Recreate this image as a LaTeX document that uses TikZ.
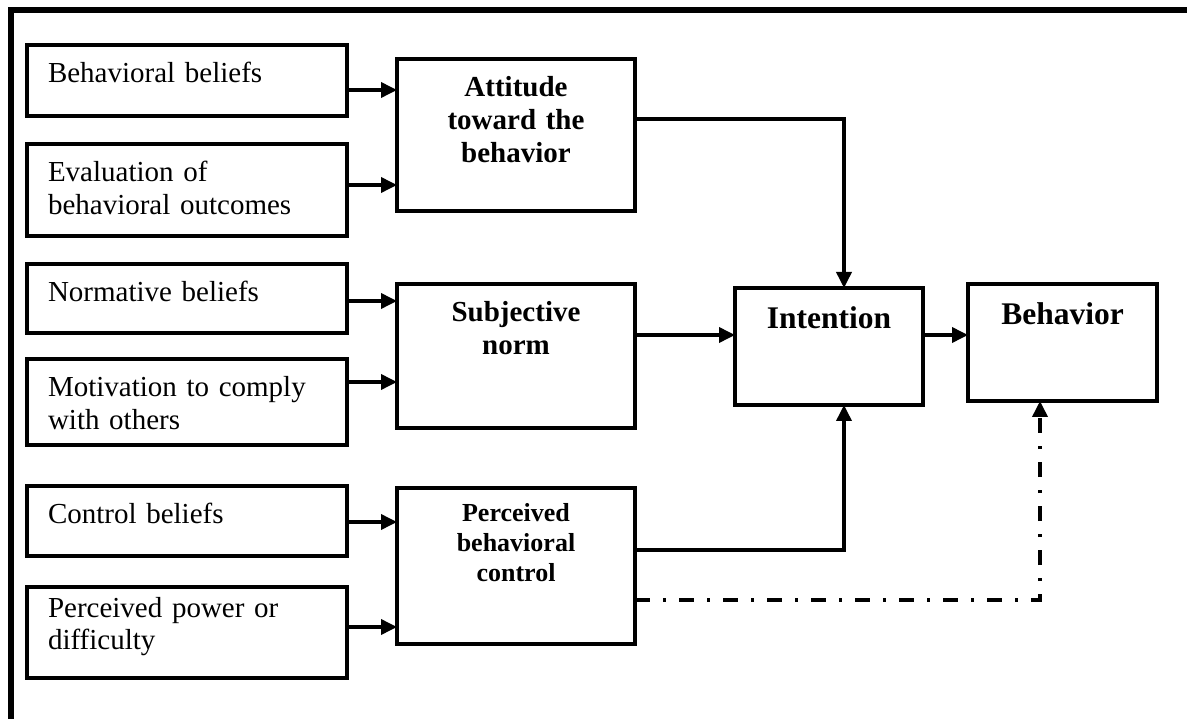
\documentclass[tikz,border=0pt]{standalone}
\usepackage{fontspec}
\setmainfont{Liberation Serif}
\usetikzlibrary{arrows.meta,calc}

\begin{document}
\begin{tikzpicture}[x=1pt,y=-1pt,
  box/.style={draw, line width=4.2pt, rectangle, inner sep=0pt, outer sep=0pt},
  leftbox/.style={box, minimum width=320pt},
  midbox/.style={box, minimum width=238pt},
  conn/.style={line width=3.6pt, -{Triangle[length=16pt,width=15pt]}},
  dashdot/.style={conn, dash pattern=on 15pt off 13pt on 3pt off 13pt},
  plaintext/.style={font=\fontsize{29}{32.5}\selectfont, inner sep=0pt, outer sep=0pt,
    align=left, text width=300pt, anchor=base west},
  boldtext/.style={font=\fontsize{29}{33}\bfseries\selectfont, inner sep=0pt, outer sep=0pt,
    align=center, text width=230pt, anchor=base},
  smallbold/.style={boldtext, font=\fontsize{26}{30}\bfseries\selectfont},
  bigbold/.style={boldtext, font=\fontsize{31.5}{36}\bfseries\selectfont, text width=185pt},
]
\useasboundingbox (0,0) rectangle (1187,719);

% outer frame (top and left edges)
\draw[line width=5.5pt] (1192,10) -- (11,10) -- (11,724);

% belief boxes on the left
\node[leftbox, minimum height=71pt] (b1) at (187,80.5) {};
\node[leftbox, minimum height=92pt] (b2) at (187,190) {};
\node[leftbox, minimum height=69pt] (b3) at (187,298.5) {};
\node[leftbox, minimum height=86pt] (b4) at (187,402) {};
\node[leftbox, minimum height=70pt] (b5) at (187,521) {};
\node[leftbox, minimum height=91pt] (b6) at (187,632.5) {};

\node[plaintext] (t1) at ($(b1.north west)+(21,38)$) {Behavioral beliefs};
\node[plaintext] (t2) at ($(b2.north west)+(21,37.7)$) {Evaluation of\\behavioral outcomes};
\node[plaintext] (t3) at ($(b3.north west)+(21,37.7)$) {Normative beliefs};
\node[plaintext] (t4) at ($(b4.north west)+(21,37.7)$) {Motivation to comply\\with others};
\node[plaintext] (t5) at ($(b5.north west)+(21,37.3)$) {Control beliefs};
\node[plaintext] (t6) at ($(b6.north west)+(21,30)$) {Perceived power or\\difficulty};

% the three determinants
\node[midbox, minimum height=152pt] (att) at (516,135) {};
\node[midbox, minimum height=144pt] (sub) at (516,356) {};
\node[midbox, minimum height=156pt] (pbc) at (516,566) {};

\node[boldtext] (tatt) at ($(att.north)+(0,38)$) {Attitude\\toward the\\behavior};
\node[boldtext] (tsub) at ($(sub.north)+(0,37.7)$) {Subjective\\norm};
\node[smallbold] (tpbc) at ($(pbc.north)+(0,33.7)$) {Perceived\\behavioral\\control};

% intention and behavior
\node[box, minimum width=188pt, minimum height=117pt] (int) at (829,346.5) {};
\node[box, minimum width=189pt, minimum height=117pt] (beh) at (1062.5,342.5) {};
\node[bigbold] (tint) at ($(int.north)+(0,41)$) {Intention};
\node[bigbold] (tbeh) at ($(beh.north)+(0,41)$) {Behavior};

% rows and columns used by the connectors
\coordinate (r1) at (0,90);
\coordinate (r2) at (0,185);
\coordinate (r3) at (0,301);
\coordinate (r4) at (0,382);
\coordinate (r5) at (0,522);
\coordinate (r6) at (0,627);
\coordinate (ra) at (0,119);
\coordinate (rm) at (0,335);
\coordinate (rp) at (0,550);
\coordinate (rd) at (0,600);
\coordinate (ci) at (844,0);
\coordinate (cb) at (1040,0);

% beliefs feed the determinants
\draw[conn] (b1.east |- r1) -- (att.west |- r1);
\draw[conn] (b2.east |- r2) -- (att.west |- r2);
\draw[conn] (b3.east |- r3) -- (sub.west |- r3);
\draw[conn] (b4.east |- r4) -- (sub.west |- r4);
\draw[conn] (b5.east |- r5) -- (pbc.west |- r5);
\draw[conn] (b6.east |- r6) -- (pbc.west |- r6);

% determinants lead to intention, intention to behavior
\draw[conn] (att.east |- ra) -| (ci |- int.north);
\draw[conn] (sub.east |- rm) -- (int.west |- rm);
\draw[conn] (pbc.east |- rp) -| (ci |- int.south);
\draw[conn] (int.east |- rm) -- (beh.west |- rm);
\draw[dashdot] (pbc.east |- rd) -| (cb |- beh.south);
\end{tikzpicture}
\end{document}
